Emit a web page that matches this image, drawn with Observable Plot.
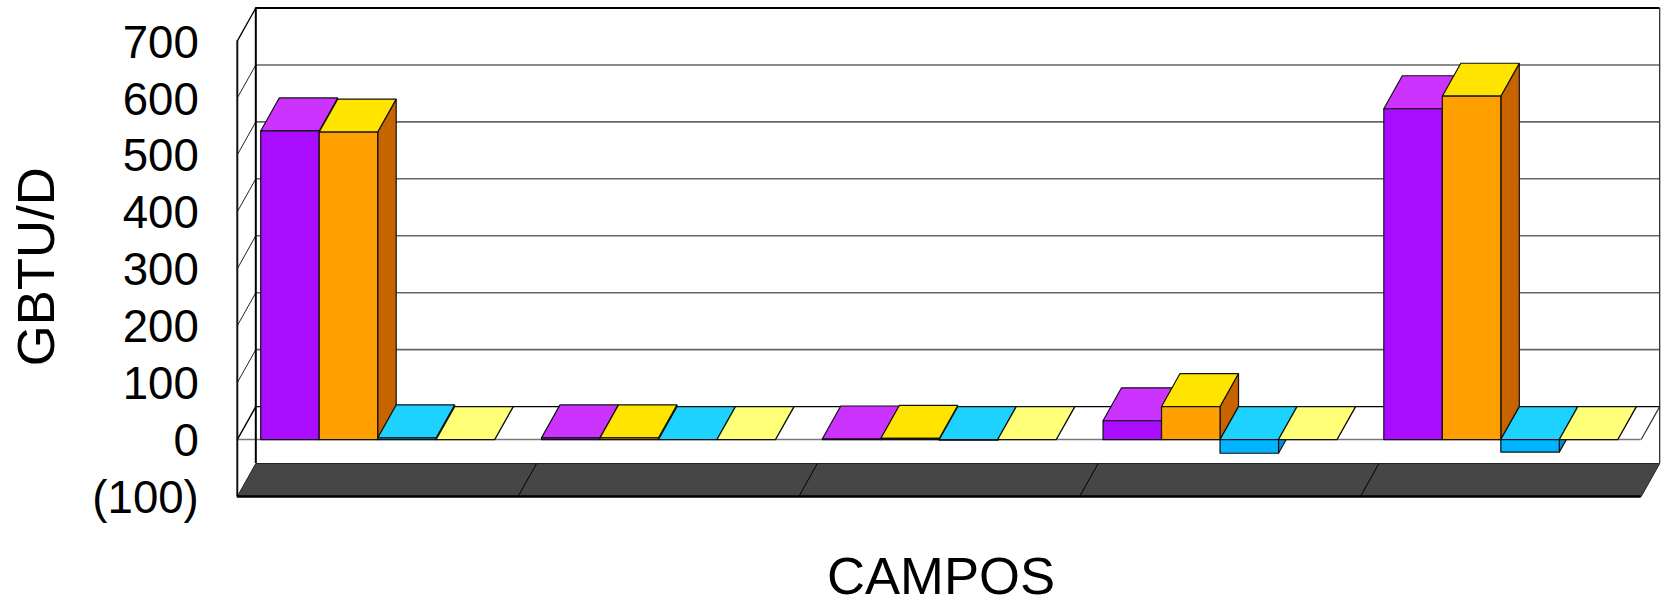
<!DOCTYPE html>
<html>
<head>
<meta charset="utf-8">
<style>html,body{margin:0;padding:0;background:#fff}svg{display:block}</style>
<script src="https://cdn.jsdelivr.net/npm/d3@7"></script>
<script src="https://cdn.jsdelivr.net/npm/@observablehq/plot@0.6"></script>
</head>
<body>
<div id="chart"></div>
<script>
// Values (GBTU/D), one entry per field
const seriesA = [542, 3, 1, 33, 581];
const seriesB = [540, 3, 2, 58, 603];
const seriesC = [3, 0, -1, -24, -22];
const seriesD = [0, 0, 0, 0, 0];
const fields = [0, 1, 2, 3, 4];
const yTicks = [-100, 0, 100, 200, 300, 400, 500, 600, 700];
const yLabel = "GBTU/D";
const xLabel = "CAMPOS";

// Colours of the faces: front, top, side
const faceColors = [
  {front: "#aa0cff", top: "#cc33ff", side: "#7a08b8"},
  {front: "#ffa000", top: "#ffe400", side: "#c86400"},
  {front: "#00b4ff", top: "#1ed2ff", side: "#0090e0"},
  {front: "#ffff78", top: "#ffff78", side: "#c8c850"}
];
const allSeries = [seriesA, seriesB, seriesC, seriesD];

// Oblique projection, in data units
const depthX = 0.0659;   // fields
const depthY = 57.9;     // GBTU/D
const barWidth = 1 / 4.8;
const barOffset = 0.4 * barWidth;
const yMin = yTicks[0], yMax = yTicks[yTicks.length - 1];
const xMax = fields.length;

// Bars become polygons in data space
const faces = [];
let fid = 0;
function addFace(points, fill) {
  const id = fid++;
  points.forEach(([x, y]) => faces.push({id, x, y, fill}));
  faces.push({id, x: points[0][0], y: points[0][1], fill});
}
fields.forEach(f => {
  allSeries.forEach((s, k) => {
    const v = s[f], c = faceColors[k];
    const x1 = f + barOffset + k * barWidth, x2 = x1 + barWidth;
    const hi = Math.max(v, 0), lo = Math.min(v, 0);
    addFace([[x2, lo], [x2 + depthX, lo + depthY], [x2 + depthX, hi + depthY], [x2, hi]], c.side);
    addFace([[x1, hi], [x2, hi], [x2 + depthX, hi + depthY], [x1 + depthX, hi + depthY]], c.top);
    if (v !== 0) addFace([[x1, lo], [x2, lo], [x2, hi], [x1, hi]], c.front);
  });
});

const floor = [
  {x: 0, y: yMin}, {x: xMax, y: yMin},
  {x: xMax + depthX, y: yMin + depthY}, {x: depthX, y: yMin + depthY}, {x: 0, y: yMin}
];
const wallTicks = yTicks.filter(t => t > 0 && t < yMax);
const dividers = d3.range(1, fields.length);
const font = "Liberation Sans, Arial, sans-serif";
const k = d => d;

const chart = Plot.plot({
  width: 1662,
  height: 600,
  marginLeft: 236.8,
  marginRight: 2.8,
  marginTop: 7.5,
  marginBottom: 104,
  style: {background: "#fff", fontFamily: font, color: "#000"},
  x: {domain: [0, xMax + depthX], axis: null},
  y: {domain: [yMin, yMax + depthY], axis: null},
  color: {type: "identity"},
  marks: [
    // back wall gridlines
    Plot.ruleY(wallTicks, {y: d => d + depthY, x1: depthX, x2: xMax + depthX, stroke: "#666", strokeWidth: 1.6}),
    // side wall gridlines
    Plot.link(wallTicks, {x1: 0, y1: k, x2: depthX, y2: d => d + depthY, stroke: "#222", strokeWidth: 1}),
    // floor
    Plot.line(floor, {x: "x", y: "y", fill: "#464646", stroke: "#222", strokeWidth: 1}),
    Plot.link(dividers, {x1: k, y1: yMin, x2: d => d + depthX, y2: yMin + depthY, stroke: "#000", strokeWidth: 1}),
    // zero plane
    Plot.ruleY([0], {x1: 0, x2: xMax, stroke: "#777", strokeWidth: 1.5}),
    Plot.ruleY([depthY], {x1: depthX, x2: xMax + depthX, stroke: "#000", strokeWidth: 1.4}),
    Plot.link([0], {x1: 0, y1: 0, x2: depthX, y2: depthY, stroke: "#000", strokeWidth: 1.4}),
    Plot.link([xMax], {x1: k, y1: 0, x2: d => d + depthX, y2: depthY, stroke: "#333", strokeWidth: 1.2}),
    // frame
    Plot.ruleX([depthX], {y1: yMin + depthY, y2: yMax + depthY, stroke: "#000", strokeWidth: 2}),
    Plot.ruleX([xMax + depthX], {y1: yMin + depthY, y2: yMax + depthY, stroke: "#222", strokeWidth: 1.2}),
    Plot.ruleY([yMax + depthY], {x1: depthX, x2: xMax + depthX, stroke: "#000", strokeWidth: 2}),
    Plot.link([0], {x1: 0, y1: yMax, x2: depthX, y2: yMax + depthY, stroke: "#000", strokeWidth: 1.4}),
    Plot.ruleX([0], {y1: yMin, y2: yMax, stroke: "#111", strokeWidth: 2}),
    Plot.ruleY([yMin], {x1: 0, x2: xMax, stroke: "#000", strokeWidth: 2.4}),
    // bars
    Plot.line(faces, {x: "x", y: "y", z: "id", fill: "fill", stroke: "#111", strokeWidth: 1.2, strokeLinejoin: "miter"}),
    // axis and titles
    Plot.axisY(yTicks, {
      anchor: "left", tickSize: 0, tickPadding: 38.5, dy: 2, fontSize: 45.6, fontFamily: font, fill: "#000",
      label: null, tickFormat: d => d < 0 ? `(${-d})` : String(d)
    }),
    Plot.text([yLabel], {frameAnchor: "left", dx: -199.8, dy: 114, rotate: -90, fontSize: 52.7, fontFamily: font, fill: "#000", text: k}),
    Plot.text([xLabel], {frameAnchor: "bottom", dx: -7.5, dy: 97, fontSize: 52.6, fontFamily: font, fill: "#000", text: k})
  ]
});
document.getElementById("chart").appendChild(chart);
</script>
</body>
</html>
